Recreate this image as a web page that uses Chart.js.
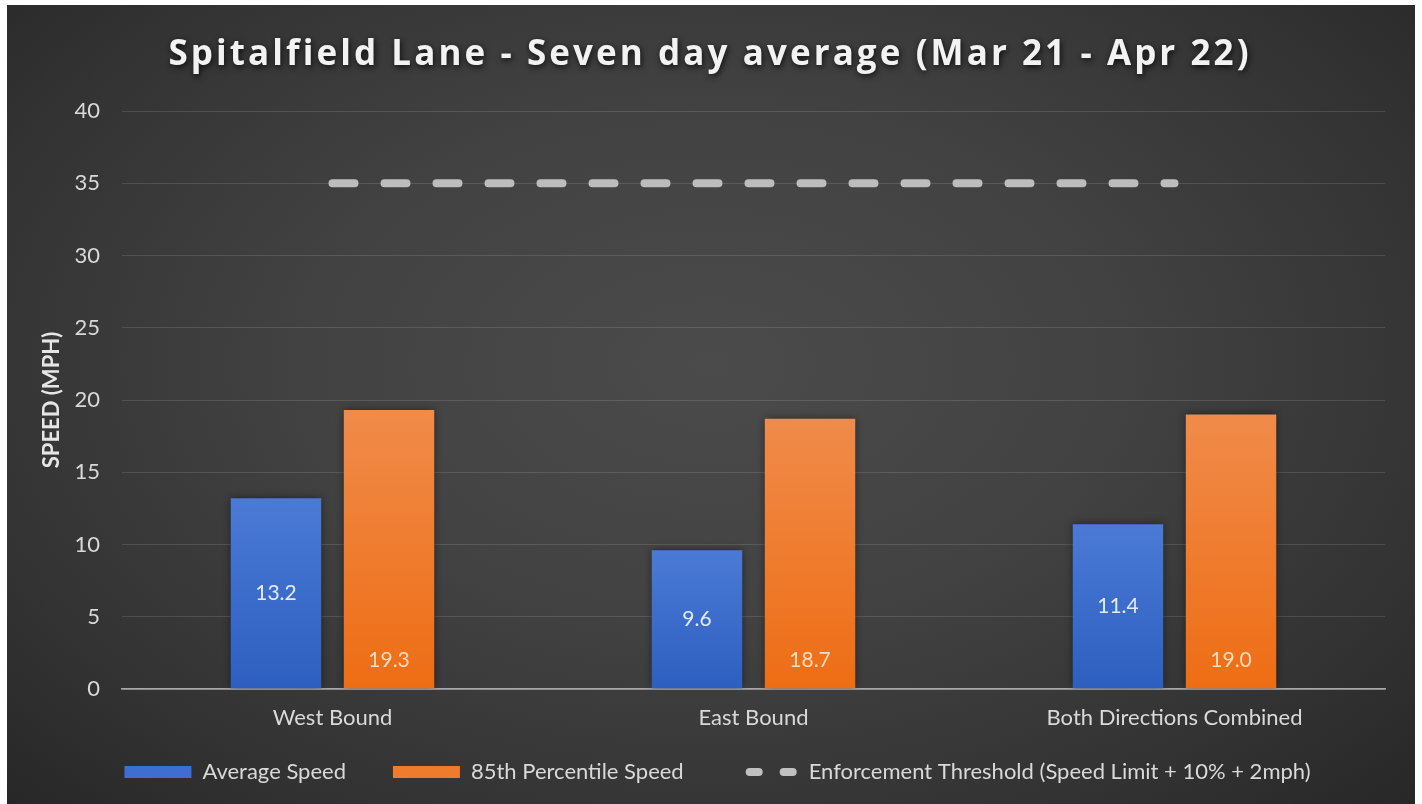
<!DOCTYPE html>
<html><head><meta charset="utf-8">
<script src="https://cdn.jsdelivr.net/npm/chart.js@4.4.1/dist/chart.umd.min.js"></script>
<style>
html,body{margin:0;padding:0;background:#fff;width:1422px;height:804px;overflow:hidden;}
#bg{position:absolute;left:7px;top:5px;width:1408px;height:799px;
background:radial-gradient(ellipse 72% 80% at 50% 45%, #4b4b4b 0%, #424242 40%, #333 75%, #262626 100%);}
#wrap{position:absolute;left:0;top:0;width:1422px;height:804px;}
</style></head><body>
<div id="bg"></div>
<div id="wrap"><canvas id="c" width="1422" height="804"></canvas></div>
<script>
const categories = ['West Bound', 'East Bound', 'Both Directions Combined'];
const averageSpeed = [13.2, 9.6, 11.4];
const percentile85 = [19.3, 18.7, 19.0];
const enforcementThreshold = [35, 35, 35];
const seriesNames = ['Average Speed', '85th Percentile Speed', 'Enforcement Threshold (Speed Limit + 10% + 2mph)'];
const yMin = 0, yMax = 40, yStep = 5;
const titleText = 'Spitalfield Lane - Seven day average (Mar 21 - Apr 22)';
const yTitle = 'SPEED (MPH)';

const TXT = '#d9d9d9';
const FONT = 'Lato';
const TITLE_FONT = 'Open Sans';
const TITLE_SIZE = 35;
const TITLE_WIDTH = 1083;

function barGradient(top, bottom) {
  return (ctx) => {
    const chart = ctx.chart;
    if (!chart.chartArea || ctx.type !== 'data' || !chart.scales.y) return bottom;
    const ys = chart.scales.y;
    const v = ctx.parsed ? ctx.parsed.y : ctx.raw;
    const y0 = ys.getPixelForValue(v), y1 = ys.getPixelForValue(0);
    if (!isFinite(y0) || !isFinite(y1)) return bottom;
    const g = chart.ctx.createLinearGradient(0, y0, 0, y1);
    g.addColorStop(0, top); g.addColorStop(1, bottom);
    return g;
  };
}

const patchPlugin = {
  id: 'patch',
  beforeDraw(chart) {
    const c = chart.ctx;
    const tb = chart.titleBlock;
    if (tb && !tb._patched) {
      const o = tb.draw.bind(tb);
      tb.draw = function () {
        c.save();
        c.font = 'bold ' + TITLE_SIZE + 'px "' + TITLE_FONT + '"';
        c.letterSpacing = '0px';
        const w = c.measureText(titleText).width;
        const sp = Math.max(0, (TITLE_WIDTH - w) / titleText.length);
        c.letterSpacing = sp.toFixed(2) + 'px';
        c.shadowColor = 'rgba(0,0,0,0.8)';
        c.shadowBlur = 6; c.shadowOffsetX = 1; c.shadowOffsetY = 2;
        c.translate(16 + sp / 2, 0);
        o();
        c.restore();
      };
      tb._patched = true;
    }
    const lg = chart.legend;
    if (lg && !lg._patched) {
      const o2 = lg.draw.bind(lg);
      lg.draw = function () { c.save(); c.translate(25, -17); o2(); c.restore(); };
      lg._patched = true;
    }
  },
  beforeDatasetDraw(chart, args) {
    if (args.index < 2) {
      const c = chart.ctx;
      c.save();
      c.shadowColor = 'rgba(0,0,0,0.45)';
      c.shadowBlur = 8; c.shadowOffsetX = 0; c.shadowOffsetY = 0;
    }
  },
  afterDatasetDraw(chart, args) {
    if (args.index < 2) chart.ctx.restore();
  },
  afterDatasetsDraw(chart) {
    const c = chart.ctx;
    c.save();
    c.font = '21px ' + FONT;
    c.textAlign = 'center';
    c.textBaseline = 'middle';
    chart.getDatasetMeta(0).data.forEach((el, i) => {
      c.fillStyle = 'rgba(236,241,252,0.95)';
      c.fillText(averageSpeed[i].toFixed(1), el.x, (el.y + el.base) / 2);
    });
    chart.getDatasetMeta(1).data.forEach((el, i) => {
      c.fillStyle = 'rgba(253,226,200,0.95)';
      c.fillText(percentile85[i].toFixed(1), el.x, el.base - 28);
    });
    c.restore();
  }
};

new Chart(document.getElementById('c'), {
  data: {
    labels: categories,
    datasets: [
      { type: 'bar', label: seriesNames[0], data: averageSpeed,
        backgroundColor: barGradient('#4b7ad6', '#2d5fc0'), borderWidth: 0,
        categoryPercentage: 0.537, barPercentage: 0.8, order: 2 },
      { type: 'bar', label: seriesNames[1], data: percentile85,
        backgroundColor: barGradient('#f08b4a', '#ee6d14'), borderWidth: 0,
        categoryPercentage: 0.537, barPercentage: 0.8, order: 2 },
      { type: 'line', label: seriesNames[2], data: enforcementThreshold,
        borderColor: '#bdbdbd', borderWidth: 8, borderDash: [22, 30], borderCapStyle: 'round',
        pointRadius: 0, fill: false, order: 1 }
    ]
  },
  options: {
    responsive: false,
    animation: false,
    devicePixelRatio: 1,
    layout: { padding: { left: 0, right: 37, top: 0, bottom: -6 } },
    plugins: {
      title: {
        display: true, text: titleText, color: '#f2f2f2',
        font: { family: TITLE_FONT, size: TITLE_SIZE, weight: 'bold', lineHeight: 1.2 },
        padding: { top: 34, bottom: 35 }
      },
      legend: {
        position: 'bottom',
        labels: {
          color: TXT, font: { family: FONT, size: 22 }, padding: 47,
          usePointStyle: true, pointStyleWidth: 67, boxHeight: 12,
          generateLabels: () => [
            { text: seriesNames[0], fillStyle: '#3e6fd0', strokeStyle: '#3e6fd0', lineWidth: 0, pointStyle: 'rect', datasetIndex: 0, fontColor: TXT },
            { text: seriesNames[1], fillStyle: '#ef7b2d', strokeStyle: '#ef7b2d', lineWidth: 0, pointStyle: 'rect', datasetIndex: 1, fontColor: TXT },
            { text: seriesNames[2], fillStyle: 'rgba(0,0,0,0)', strokeStyle: '#c0c0c0', lineWidth: 8, lineCap: 'round',
              lineDash: [9, 25], lineDashOffset: -19, pointStyle: 'line', datasetIndex: 2, fontColor: TXT }
          ]
        }
      },
      tooltip: { enabled: false }
    },
    scales: {
      x: {
        grid: { display: false, drawTicks: false },
        border: { display: true, color: '#a8a8a8', width: 1.5 },
        ticks: { color: TXT, font: { family: FONT, size: 22 }, padding: 16, maxRotation: 0 },
        afterFit: (s) => { s.height = 42; }
      },
      y: {
        min: yMin, max: yMax,
        ticks: { stepSize: yStep, color: TXT, font: { family: FONT, size: 22 }, padding: 22 },
        grid: { drawTicks: false, color: (ctx) => (ctx.tick && ctx.tick.value === 0) ? '#a8a8a8' : 'rgba(255,255,255,0.12)', lineWidth: (ctx) => (ctx.tick && ctx.tick.value === 0) ? 1.5 : 1 },
        border: { display: false },
        title: { display: true, text: yTitle, color: '#e6e6e6', font: { family: FONT, size: 22, weight: 'bold', lineHeight: 1.2 }, padding: { top: 38.8, bottom: 0 } },
        afterFit: (s) => { s.width = 122; }
      }
    }
  },
  plugins: [patchPlugin]
});
</script>
</body></html>
